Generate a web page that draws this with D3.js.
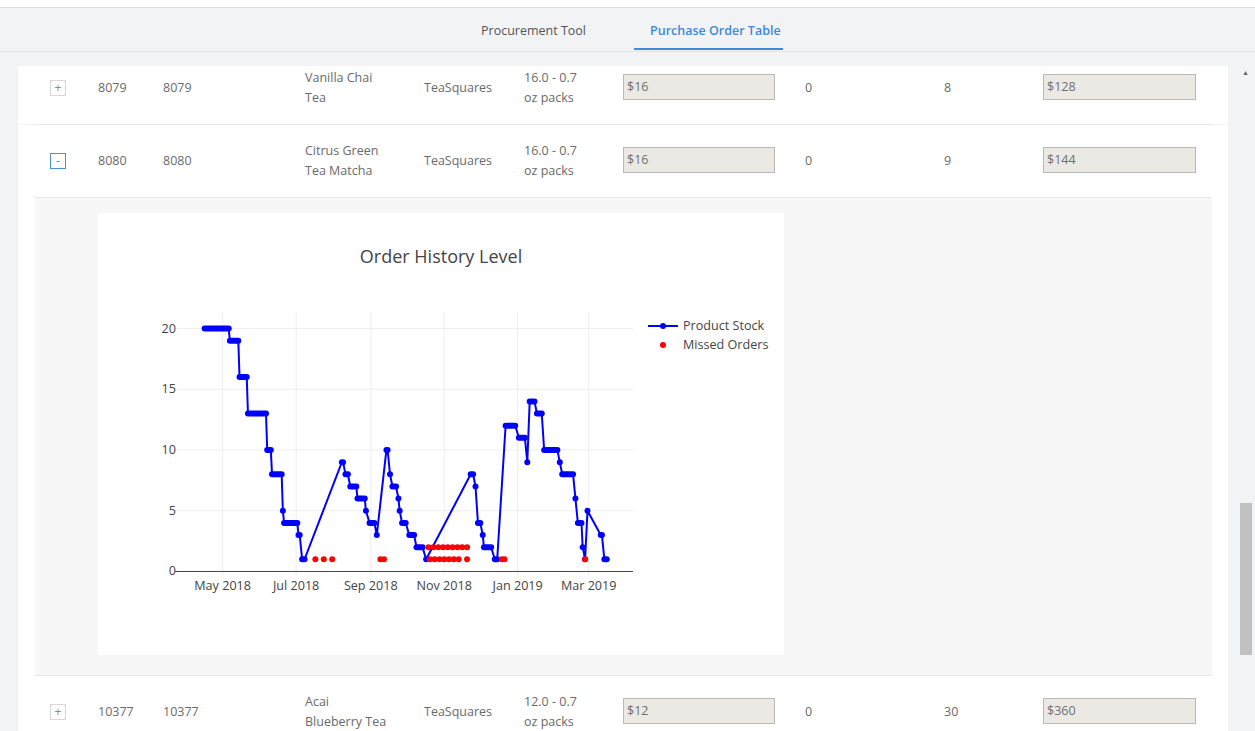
<!DOCTYPE html>
<html>
<head>
<meta charset="utf-8">
<script src="https://cdn.jsdelivr.net/npm/d3@7"></script>
<style>
  body { margin: 0; width: 1255px; height: 731px; overflow: hidden; background: #fff;
         font-family: "Open Sans", "Noto Sans", sans-serif; color: #666; }
  #page { position: absolute; left: 0; top: 0; width: 1255px; height: 731px; }
  .abs { position: absolute; }
  .cell { position: absolute; font-size: 12.5px; line-height: 20px; color: #6a6a6a; white-space: nowrap; }
  .inp { position: absolute; height: 26px; background: #eae9e4; border: 1px solid #b9b9b9;
         font-size: 12.5px; line-height: 24px; padding-left: 3px; color: #707070; box-sizing: border-box; }
  .btn { position: absolute; width: 16px; height: 16px; border: 1px solid #d6d6d6; box-sizing: border-box;
         font-size: 12px; line-height: 14px; text-align: center; color: #888; background: #fff; }
  .btn.open { border-color: #4a90d9; color: #4a90d9; }
</style>
</head>
<body>
<div id="page"></div>
<script>
// table rows
const rowIds = ["8079", "8080", "10377"];
const rowNames = [["Vanilla Chai", "Tea"], ["Citrus Green", "Tea Matcha"], ["Acai", "Blueberry Tea"]];
const rowBrand = ["TeaSquares", "TeaSquares", "TeaSquares"];
const rowPacks = [["16.0 - 0.7", "oz packs"], ["16.0 - 0.7", "oz packs"], ["12.0 - 0.7", "oz packs"]];
const rowCost = ["$16", "$16", "$12"];
const rowQty = ["0", "0", "0"];
const rowOrder = ["8", "9", "30"];
const rowTotal = ["$128", "$144", "$360"];
const rowOpen = [false, true, false];

// chart data: stock level runs [first day, last day, level]
const stockRuns = [
  ["2018-04-16", "2018-05-06", 20], ["2018-05-07", "2018-05-14", 19], ["2018-05-15", "2018-05-21", 16],
  ["2018-05-22", "2018-06-06", 13], ["2018-06-07", "2018-06-10", 10], ["2018-06-11", "2018-06-19", 8],
  ["2018-06-20", "2018-06-20", 5], ["2018-06-21", "2018-07-02", 4], ["2018-07-03", "2018-07-04", 3],
  ["2018-07-06", "2018-07-08", 1], ["2018-08-08", "2018-08-09", 9], ["2018-08-11", "2018-08-13", 8],
  ["2018-08-15", "2018-08-20", 7], ["2018-08-21", "2018-08-27", 6], ["2018-08-28", "2018-08-28", 5],
  ["2018-08-31", "2018-09-04", 4], ["2018-09-06", "2018-09-06", 3], ["2018-09-14", "2018-09-15", 10],
  ["2018-09-17", "2018-09-17", 8], ["2018-09-19", "2018-09-22", 7], ["2018-09-24", "2018-09-24", 6],
  ["2018-09-25", "2018-09-25", 5], ["2018-09-27", "2018-09-30", 4], ["2018-10-03", "2018-10-07", 3],
  ["2018-10-09", "2018-10-14", 2], ["2018-10-17", "2018-10-17", 1], ["2018-11-23", "2018-11-25", 8],
  ["2018-11-27", "2018-11-27", 7], ["2018-11-29", "2018-12-01", 4], ["2018-12-03", "2018-12-03", 3],
  ["2018-12-04", "2018-12-10", 2], ["2018-12-13", "2018-12-15", 1], ["2018-12-22", "2018-12-30", 12],
  ["2019-01-02", "2019-01-07", 11], ["2019-01-09", "2019-01-09", 9], ["2019-01-11", "2019-01-15", 14],
  ["2019-01-17", "2019-01-21", 13], ["2019-01-23", "2019-02-03", 10], ["2019-02-05", "2019-02-05", 9],
  ["2019-02-07", "2019-02-16", 8], ["2019-02-18", "2019-02-18", 6], ["2019-02-20", "2019-02-23", 4],
  ["2019-02-24", "2019-02-24", 2], ["2019-02-26", "2019-02-26", 1], ["2019-02-28", "2019-02-28", 5],
  ["2019-03-11", "2019-03-12", 3], ["2019-03-14", "2019-03-16", 1]
];
// missed orders [day, level]
const missedOrders = [
  ["2018-07-17", 1], ["2018-07-24", 1], ["2018-07-31", 1], ["2018-09-09", 1], ["2018-09-12", 1],
  ["2018-10-19", 2], ["2018-10-23", 2], ["2018-10-27", 2], ["2018-10-31", 2], ["2018-11-04", 2],
  ["2018-11-08", 2], ["2018-11-12", 2], ["2018-11-16", 2], ["2018-11-20", 2],
  ["2018-10-20", 1], ["2018-10-24", 1], ["2018-10-28", 1], ["2018-11-01", 1], ["2018-11-05", 1],
  ["2018-11-09", 1], ["2018-11-13", 1], ["2018-11-20", 1],
  ["2018-12-19", 1], ["2018-12-21", 1], ["2019-02-26", 1]
];
const yTicks = [0, 5, 10, 15, 20];
const seriesNames = ["Product Stock", "Missed Orders"];

const page = d3.select("#page");

// grey backdrop below the nav
page.append("div").attr("class", "abs")
  .style("left", "0px").style("top", "51px").style("width", "1255px").style("height", "680px")
  .style("background", "#f2f3f5");

// nav bar
page.append("div").attr("class", "abs")
  .style("left", "0px").style("top", "7px").style("width", "1255px").style("height", "43px")
  .style("background", "#f2f3f5").style("border-top", "1px solid #dedede").style("border-bottom", "1px solid #e3e4e6");
page.append("div").attr("class", "abs").text("Procurement Tool")
  .style("left", "481px").style("top", "22px").style("font-size", "12.5px").style("color", "#555");
page.append("div").attr("class", "abs").text("Purchase Order Table")
  .style("left", "650px").style("top", "22px").style("font-size", "12.5px").style("color", "#3d8ad8")
  .style("font-weight", "600");
page.append("div").attr("class", "abs")
  .style("left", "634px").style("top", "48px").style("width", "149px").style("height", "2px")
  .style("background", "#3d8ad8");

// scrollbar
page.append("div").attr("class", "abs").html("&#9650;")
  .style("left", "1242px").style("top", "68px").style("font-size", "7px").style("color", "#666");
page.append("div").attr("class", "abs")
  .style("left", "1240px").style("top", "503px").style("width", "12px").style("height", "152px").style("background", "#c1c1c1");

// table rows
const rowTops = [66, 125, 676];
const rowHeights = [58, 72, 60];
const rowMid = [88, 161, 712];

rowIds.forEach((id, i) => {
  const m = rowMid[i];
  page.append("div").attr("class", "abs")
    .style("left", "18px").style("top", rowTops[i] + "px").style("width", "1210px")
    .style("height", rowHeights[i] + "px").style("background", "#fff");
  page.append("div").attr("class", "btn" + (rowOpen[i] ? " open" : ""))
    .style("left", "50px").style("top", (m - 8) + "px").text(rowOpen[i] ? "-" : "+");
  page.append("div").attr("class", "cell").style("left", "98px").style("top", (m - 10) + "px").text(id);
  page.append("div").attr("class", "cell").style("left", "163px").style("top", (m - 10) + "px").text(id);
  page.append("div").attr("class", "cell").style("left", "305px").style("top", (m - 20) + "px")
    .html(rowNames[i].join("<br>"));
  page.append("div").attr("class", "cell").style("left", "424px").style("top", (m - 10) + "px").text(rowBrand[i]);
  page.append("div").attr("class", "cell").style("left", "524px").style("top", (m - 20) + "px")
    .html(rowPacks[i].join("<br>"));
  page.append("div").attr("class", "inp").style("left", "623px").style("top", (m - 14) + "px")
    .style("width", "152px").text(rowCost[i]);
  page.append("div").attr("class", "cell").style("left", "805px").style("top", (m - 10) + "px").text(rowQty[i]);
  page.append("div").attr("class", "cell").style("left", "944px").style("top", (m - 10) + "px").text(rowOrder[i]);
  page.append("div").attr("class", "inp").style("left", "1043px").style("top", (m - 14) + "px")
    .style("width", "153px").text(rowTotal[i]);
});

// expanded area (white frame around a light grey panel)
page.append("div").attr("class", "abs")
  .style("left", "18px").style("top", "197px").style("width", "1210px").style("height", "479px")
  .style("background", "#fff");
page.append("div").attr("class", "abs")
  .style("left", "35px").style("top", "198px").style("width", "1177px").style("height", "477px")
  .style("background", "#f7f7f7");

// separators
[124, 197, 675].forEach(y => {
  page.append("div").attr("class", "abs")
    .style("left", "35px").style("top", y + "px").style("width", "1177px").style("height", "1px")
    .style("background", "#e6e6e6");
});

// chart
const W = 686, H = 442;
const svg = page.append("svg").attr("class", "abs")
  .style("left", "98px").style("top", "213px")
  .attr("width", W).attr("height", H)
  .style("font-family", "'Open Sans', verdana, arial, sans-serif");
svg.append("rect").attr("width", W).attr("height", H).attr("fill", "#fff");

const plot = { left: 77, right: 535, top: 99, bottom: 362 };
const parse = d3.utcParse("%Y-%m-%d");

const x = d3.scaleUtc()
  .domain([new Date(Date.UTC(2018, 2, 22, 10)), new Date(Date.UTC(2019, 3, 6, 19))])
  .range([plot.left, plot.right]);
const y = d3.scaleLinear().domain([-0.29, 21.36]).range([plot.bottom, plot.top]);

const xTicks = x.ticks(d3.utcMonth.every(2));

const grid = svg.append("g");
grid.selectAll("line.gx").data(xTicks).enter().append("line")
  .attr("x1", d => x(d)).attr("x2", d => x(d))
  .attr("y1", plot.top).attr("y2", plot.bottom)
  .attr("stroke", "#eee").attr("stroke-width", 1);
grid.selectAll("line.gy").data(yTicks.filter(d => d !== 0)).enter().append("line")
  .attr("x1", plot.left).attr("x2", plot.right)
  .attr("y1", d => y(d)).attr("y2", d => y(d))
  .attr("stroke", "#eee").attr("stroke-width", 1);
grid.append("line")
  .attr("x1", plot.left).attr("x2", plot.right)
  .attr("y1", y(0)).attr("y2", y(0))
  .attr("stroke", "#444").attr("stroke-width", 1);

svg.append("g").selectAll("text").data(xTicks).enter().append("text")
  .attr("x", d => x(d)).attr("y", plot.bottom + 15)
  .attr("text-anchor", "middle").attr("font-size", 12.6).attr("fill", "#444")
  .text(d3.utcFormat("%b %Y"));
svg.append("g").selectAll("text").data(yTicks).enter().append("text")
  .attr("x", plot.left + 1).attr("y", d => y(d) + 4)
  .attr("text-anchor", "end").attr("font-size", 12.6).attr("fill", "#444")
  .text(d => d);

svg.append("text").attr("x", 343).attr("y", 50)
  .attr("text-anchor", "middle").attr("font-size", 18).attr("fill", "#444")
  .text("Order History Level");

// stock line through every run's first and last day
const linePts = [];
stockRuns.forEach(r => {
  linePts.push([parse(r[0]), r[2]]);
  if (r[1] !== r[0]) linePts.push([parse(r[1]), r[2]]);
});
const line = d3.line().x(d => x(d[0])).y(d => y(d[1]));
svg.append("path").datum(linePts).attr("d", line)
  .attr("fill", "none").attr("stroke", "blue").attr("stroke-width", 2);

// daily markers of a run merge into one rounded bar
svg.append("g").selectAll("line").data(stockRuns).enter().append("line")
  .attr("x1", d => x(parse(d[0]))).attr("x2", d => x(parse(d[1])))
  .attr("y1", d => y(d[2])).attr("y2", d => y(d[2]))
  .attr("stroke", "blue").attr("stroke-width", 6).attr("stroke-linecap", "round");

svg.append("g").selectAll("circle").data(missedOrders).enter().append("circle")
  .attr("cx", d => x(parse(d[0]))).attr("cy", d => y(d[1])).attr("r", 3)
  .attr("fill", "red");

// legend
const lg = svg.append("g").attr("transform", "translate(550,113)");
lg.append("line").attr("x1", 0).attr("x2", 30).attr("y1", 0).attr("y2", 0)
  .attr("stroke", "blue").attr("stroke-width", 2);
lg.append("circle").attr("cx", 15).attr("cy", 0).attr("r", 3).attr("fill", "blue");
lg.append("circle").attr("cx", 15).attr("cy", 19).attr("r", 3).attr("fill", "red");
lg.selectAll("text").data(seriesNames).enter().append("text")
  .attr("x", 35).attr("y", (d, i) => i * 19 + 4)
  .attr("font-size", 12.6).attr("fill", "#444").text(d => d);
</script>
</body>
</html>
